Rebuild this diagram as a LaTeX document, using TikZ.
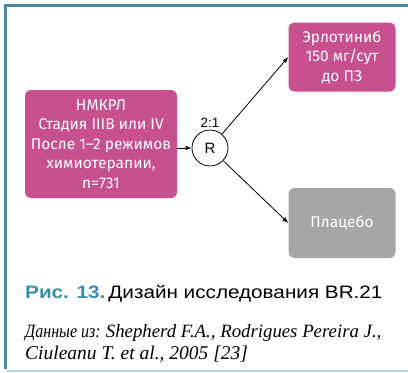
\documentclass[tikz,border=0pt]{standalone}
\usepackage{fontspec}
\setmainfont{Liberation Serif}
\setsansfont{Liberation Sans}
\newfontfamily\boxfont{Fira Sans}
\newfontfamily\capfont[FakeStretch=1.15]{Liberation Sans}
\newfontfamily\srcfont[FakeStretch=0.85]{Liberation Serif}
\usetikzlibrary{positioning,arrows.meta}
\definecolor{armpink}{HTML}{C8508F}
\definecolor{armgrey}{HTML}{A6A6A6}
\definecolor{framecol}{HTML}{4E8B9B}
\definecolor{rulecol}{HTML}{A9DCE0}
\definecolor{capblue}{HTML}{3B8DB0}
\tikzset{
  armbox/.style={rounded corners=6pt, text=white, align=center, inner sep=0pt,
    font=\boxfont\fontsize{15.5}{19.5}\selectfont},
  arrowline/.style={->, line width=0.8pt},
  srctext/.style={anchor=base west, inner sep=0pt, font=\itshape\fontsize{19.5}{19.5}\selectfont}
}
\begin{document}
\begin{tikzpicture}[x=1pt, y=-1pt, >={Latex[length=6pt,width=4.5pt]}]
    \useasboundingbox (0,0) rectangle (408,373);

    % Frame
    \draw[framecol, line width=3pt] (408,5.5) -- (5.5,5.5) -- (5.5,369);
    \draw[rulecol, line width=1.5pt] (7,371) -- (408,371);

    % Nodes for the design
    \node[armbox, fill=armpink, minimum width=152pt, minimum height=108pt] (pat) at (101,144)
      {НМКРЛ\\Стадия IIIB или IV\\После 1–2 режимов\\химиотерапии,\\n=731};
    \node[circle, draw, line width=0.8pt, minimum size=36pt, inner sep=0pt,
      font=\sffamily\fontsize{15}{15}\selectfont] (rnd) at (210,148) {R};
    \node[above=2pt of rnd, inner sep=0pt, font=\sffamily\fontsize{13.5}{13.5}\selectfont] (ratio) {2:1};
    \node[armbox, fill=armpink, minimum width=107pt, minimum height=69pt] (erl) at (342,57)
      {Эрлотиниб\\150 мг/сут\\до ПЗ};
    \node[armbox, fill=armgrey, minimum width=107pt, minimum height=70pt] (plc) at (342,223)
      {Плацебо};

    % Arrows
    \draw[arrowline] (pat.east |- rnd) -- (rnd);
    \draw[arrowline] (rnd) -- (erl.west);
    \draw[arrowline] (rnd) -- (plc.west);

    % Caption
    \node[anchor=base west, inner sep=0pt, font=\capfont\fontsize{18}{18}\selectfont] (fig) at (25,298)
      {\textcolor{capblue}{\bfseries Рис. 13.}\,Дизайн исследования BR.21};
    \node[srctext, font=\itshape\fontsize{18.8}{18.8}\selectfont] (src1) at (25,337)
      {{\srcfont Данные из:}\hspace{-1pt} Shepherd F.A., Rodrigues Pereira J.,};
    \node[srctext] (src2) at (25,359)
      {Ciuleanu T. et al., 2005 [23]};
\end{tikzpicture}
\end{document}
